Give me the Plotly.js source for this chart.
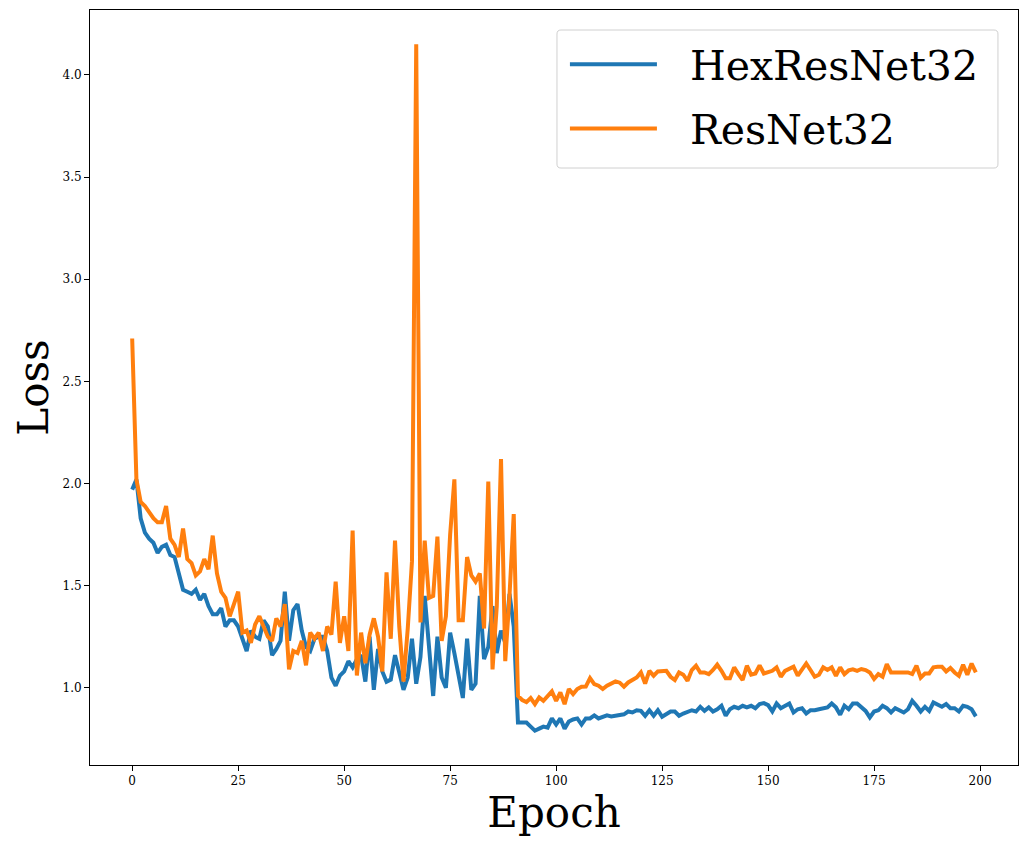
<!DOCTYPE html>
<html>
<head>
<meta charset="utf-8">
<script src="https://cdn.plot.ly/plotly-3.0.1.min.js"></script>
<style>html,body{margin:0;padding:0;background:#fff;}#chart{width:1029px;height:846px;}</style>
</head>
<body>
<div id="chart"></div>
<script>
const seriesNames = ["HexResNet32", "ResNet32"];
const xTicks = [0, 25, 50, 75, 100, 125, 150, 175, 200];
const yTicks = [1.0, 1.5, 2.0, 2.5, 3.0, 3.5, 4.0];

const hexResNet32 = [
1.97,2.02,1.83,1.76,1.73,1.71,1.66,1.69,1.70,1.65,
1.64,1.55,1.48,1.47,1.46,1.48,1.43,1.46,1.40,1.36,
1.36,1.39,1.30,1.33,1.33,1.30,1.24,1.18,1.28,1.25,
1.24,1.33,1.30,1.16,1.19,1.23,1.47,1.23,1.38,1.41,
1.28,1.20,1.18,1.24,1.25,1.25,1.18,1.05,1.01,1.06,
1.08,1.13,1.10,1.14,1.16,1.03,1.25,0.99,1.19,1.08,
1.03,1.04,1.16,1.07,0.99,1.05,1.24,1.02,1.15,1.45,
1.20,0.96,1.25,1.05,1.00,1.27,1.17,1.06,0.95,1.24,
0.99,1.02,1.45,1.14,1.20,1.40,1.17,1.28,1.22,1.46,
1.30,0.83,0.83,0.83,0.81,0.79,0.80,0.81,0.805,0.85,
0.82,0.85,0.80,0.835,0.845,0.85,0.82,0.85,0.85,0.865,
0.85,0.86,0.865,0.86,0.863,0.863,0.87,0.884,0.879,0.89,
0.887,0.863,0.89,0.863,0.89,0.858,0.874,0.884,0.884,0.863,
0.874,0.884,0.89,0.884,0.907,0.887,0.904,0.884,0.895,0.912,
0.863,0.895,0.907,0.90,0.912,0.904,0.912,0.90,0.92,0.925,
0.915,0.884,0.923,0.90,0.912,0.923,0.879,0.895,0.90,0.874,
0.89,0.89,0.895,0.90,0.904,0.923,0.904,0.868,0.912,0.895,
0.923,0.923,0.904,0.887,0.855,0.884,0.89,0.912,0.90,0.879,
0.90,0.887,0.879,0.895,0.936,0.912,0.884,0.907,0.887,0.928,
0.917,0.907,0.92,0.90,0.90,0.884,0.912,0.907,0.895,0.86
];

const resNet32 = [
2.71,2.02,1.91,1.89,1.86,1.83,1.81,1.81,1.89,1.73,
1.70,1.64,1.78,1.63,1.61,1.55,1.57,1.63,1.58,1.745,
1.56,1.47,1.44,1.35,1.41,1.47,1.27,1.28,1.22,1.31,
1.35,1.30,1.25,1.23,1.34,1.30,1.41,1.09,1.18,1.17,
1.23,1.11,1.27,1.24,1.27,1.18,1.30,1.26,1.52,1.22,
1.35,1.18,1.77,1.06,1.27,1.12,1.26,1.34,1.25,1.08,
1.565,1.24,1.72,1.30,1.03,1.29,1.62,4.15,1.32,1.72,
1.44,1.45,1.74,1.23,1.35,1.75,2.02,1.33,1.33,1.64,
1.55,1.52,1.56,1.29,2.01,1.09,1.40,2.12,1.13,1.45,
1.85,0.96,0.94,0.93,0.95,0.92,0.953,0.936,0.961,0.982,
0.936,0.977,0.92,0.994,0.969,0.994,1.005,1.006,1.047,1.018,
1.01,0.994,1.01,1.021,1.031,1.025,1.005,1.026,1.038,1.05,
1.075,1.021,1.083,1.059,1.08,1.083,1.083,1.054,1.038,1.075,
1.064,1.034,1.087,1.108,1.075,1.075,1.067,1.087,1.113,1.083,
1.047,1.047,1.10,1.067,1.038,1.108,1.064,1.07,1.11,1.07,
1.075,1.083,1.10,1.054,1.083,1.092,1.103,1.059,1.087,1.119,
1.087,1.054,1.064,1.10,1.087,1.10,1.059,1.10,1.067,1.085,
1.09,1.083,1.092,1.087,1.075,1.043,1.067,1.054,1.116,1.075,
1.075,1.075,1.075,1.075,1.067,1.108,1.05,1.07,1.07,1.10,
1.103,1.103,1.08,1.097,1.075,1.059,1.113,1.064,1.119,1.075
];

const colors = ["#1f77b4", "#ff7f0e"];
const FONT = "DejaVu Serif, Liberation Serif, serif";

const traces = [hexResNet32, resNet32].map((ys, i) => ({
  type: "scatter",
  mode: "lines",
  name: seriesNames[i],
  legendgroup: "g" + i,
  x0: 0, dx: 1,
  y: ys,
  line: {color: colors[i], width: 4, shape: "linear"},
  hoverinfo: "skip"
}));

const axisCommon = {
  showgrid: false, zeroline: false, showline: true, mirror: true,
  linecolor: "#000", linewidth: 1,
  ticks: "outside", ticklen: 5, tickwidth: 1, tickcolor: "#000",
  tickfont: {family: FONT, size: 12, color: "#000"}
};

// legend frame (rounded box) in paper coordinates
const bx0 = 0.5032, bx1 = 0.9784, by0 = 0.7907, by1 = 0.9735, rx = 0.0043, ry = 0.0053;
const boxPath = `M${bx0+rx},${by1} L${bx1-rx},${by1} Q${bx1},${by1} ${bx1},${by1-ry} ` +
  `L${bx1},${by0+ry} Q${bx1},${by0} ${bx1-rx},${by0} L${bx0+rx},${by0} Q${bx0},${by0} ${bx0},${by0+ry} ` +
  `L${bx0},${by1-ry} Q${bx0},${by1} ${bx0+rx},${by1} Z`;

const layout = {
  width: 1029, height: 846,
  margin: {l: 90, r: 11, t: 10, b: 81},
  paper_bgcolor: "#fff", plot_bgcolor: "#fff",
  font: {family: FONT, color: "#000"},
  showlegend: true,
  legend: {
    x: 0.501, xanchor: "left", y: 0.9735, yanchor: "top",
    bgcolor: "rgba(0,0,0,0)", bordercolor: "rgba(0,0,0,0)", borderwidth: 1,
    font: {family: FONT, size: 41, color: "#000"},
    itemwidth: 124, tracegroupgap: 8
  },
  shapes: [{
    type: "path", xref: "paper", yref: "paper", path: boxPath, layer: "above",
    fillcolor: "rgba(255,255,255,0.8)", line: {color: "#d0d0d0", width: 1}
  }],
  xaxis: Object.assign({}, axisCommon, {
    range: [-9.95, 208.95], tickvals: xTicks, ticktext: xTicks.map(String),
    title: {text: "Epoch", font: {family: FONT, size: 42, color: "#000"}, standoff: 6}
  }),
  yaxis: Object.assign({}, axisCommon, {
    range: [0.622, 4.318], tickvals: yTicks, ticktext: yTicks.map(v => v.toFixed(1)),
    title: {text: "Loss", font: {family: FONT, size: 42, color: "#000"}, standoff: 0}
  })
};

Plotly.newPlot("chart", traces, layout, {staticPlot: true, displayModeBar: false}).then(gd => {
  gd.querySelectorAll(".legend .legendlines path").forEach(p => {
    p.setAttribute("d", "M14,0h87");
  });
});
</script>
</body>
</html>
